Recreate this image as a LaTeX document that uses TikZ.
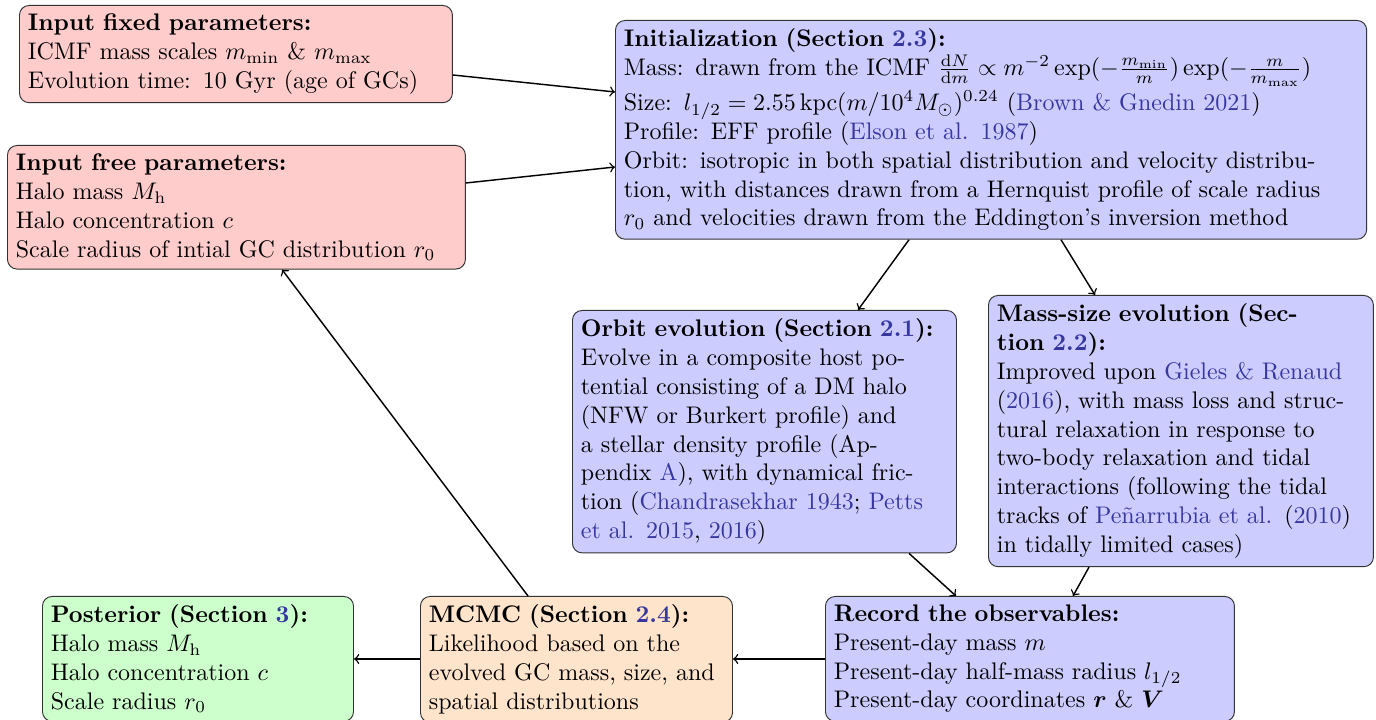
\documentclass[tikz,border=0pt]{standalone}
\usepackage{amsmath,bm}
\usetikzlibrary{calc}
\definecolor{citeblue}{RGB}{55,55,160}
\definecolor{boxpink}{RGB}{255,204,204}
\definecolor{boxblue}{RGB}{204,204,255}
\definecolor{boxgreen}{RGB}{204,255,204}
\definecolor{boxpeach}{RGB}{255,228,204}
\newcommand{\lnk}[1]{\textcolor{citeblue}{#1}}
\tikzset{
  card/.style={draw=black!80, line width=0.4pt, rounded corners=4pt, inner sep=3.5pt, align=left, anchor=north west},
  pinkcard/.style={card, fill=boxpink},
  bluecard/.style={card, fill=boxblue},
  greencard/.style={card, fill=boxgreen},
  peachcard/.style={card, fill=boxpeach},
  flow/.style={->, line width=0.6pt, black}
}
\begin{document}
\begin{tikzpicture}[x=0.41667pt, y=-0.41667pt]
\path[use as bounding box, clip] (0,0) rectangle (1376,720);

\node[pinkcard, text width=173.4pt] (fixed) at (19,5) {%
\textbf{Input fixed parameters:}\\
ICMF mass scales $m_{\min}$ \& $m_{\max}$\\
Evolution time: 10 Gyr (age of GCs)};

\node[pinkcard, text width=183.8pt] (free) at (7,145) {%
\textbf{Input free parameters:}\\
Halo mass $M_{\mathrm{h}}$\\
Halo concentration $c$\\
Scale radius of intial GC distribution $r_0$};

\node[bluecard, text width=306pt] (init) at (615,20) {%
\textbf{Initialization (Section \lnk{2.3}):}\\
Mass: drawn from the ICMF $\frac{\mathrm{d}N}{\mathrm{d}m}\propto m^{-2}\exp(-\frac{m_{\min}}{m})\exp(-\frac{m}{m_{\max}})$\\[1pt]
Size: $l_{1/2}=2.55\,\mathrm{kpc}(m/10^4M_{\odot})^{0.24}$ (\lnk{Brown \& Gnedin 2021})\\
Profile: EFF profile (\lnk{Elson et al. 1987})\\
Orbit: isotropic in both spatial distribution and velocity distribu-\\
tion, with distances drawn from a Hernquist profile of scale radius\\
$r_0$ and velocities drawn from the Eddington's inversion method};

\node[bluecard, text width=153pt] (orbit) at (572,310) {%
\textbf{Orbit evolution (Section \lnk{2.1}):}\\
Evolve in a composite host po-\\
tential consisting of a DM halo\\
(NFW or Burkert profile) and\\
a stellar density profile (Ap-\\
pendix \lnk{A}), with dynamical fric-\\
tion (\lnk{Chandrasekhar 1943}; \lnk{Petts}\\
\lnk{et al. 2015}, \lnk{2016})};

\node[bluecard, text width=153.4pt] (mass) at (988,295) {%
\textbf{Mass-size evolution (Sec-}\\
\textbf{tion \lnk{2.2}):}\\
Improved upon \lnk{Gieles \& Renaud}\\
(\lnk{2016}), with mass loss and struc-\\
tural relaxation in response to\\
two-body relaxation and tidal\\
interactions (following the tidal\\
tracks of \lnk{Pe\~narrubia et al.} (\lnk{2010})\\
in tidally limited cases)};

\node[greencard, text width=122.6pt] (posterior) at (42,596) {%
\textbf{Posterior (Section \lnk{3}):}\\
Halo mass $M_{\mathrm{h}}$\\
Halo concentration $c$\\
Scale radius $r_0$};

\node[peachcard, text width=123pt] (mcmc) at (420,596) {%
\textbf{MCMC (Section \lnk{2.4}):}\\
Likelihood based on the\\
evolved GC mass, size, and\\
spatial distributions};

\node[bluecard, text width=163.4pt] (record) at (825,596) {%
\textbf{Record the observables:}\\
Present-day mass $m$\\
Present-day half-mass radius $l_{1/2}$\\
Present-day coordinates $\bm{r}$ \& $\bm{V}$};

\draw[flow] ($(fixed.north east)+(0,70)$) -- ($(init.north west)+(0,72)$);
\draw[flow] ($(free.north east)+(0,38)$) -- ($(init.north west)+(0,147)$);
\draw[flow] ($(init.south west)+(294,0)$) -- ($(orbit.north west)+(286,0)$);
\draw[flow] ($(init.south west)+(446,0)$) -- ($(mass.north west)+(107,0)$);
\draw[flow] ($(orbit.south west)+(337,0)$) -- ($(record.north west)+(131,0)$);
\draw[flow] ($(mass.south west)+(101,0)$) -- ($(record.north west)+(248,0)$);
\draw[flow] ($(mcmc.north west)+(108,0)$) -- ($(free.south west)+(275,0)$);
\draw[flow] ($(record.north west)+(0,63)$) -- ($(mcmc.north east)+(0,63)$);
\draw[flow] ($(mcmc.north west)+(0,63)$) -- ($(posterior.north east)+(0,63)$);
\end{tikzpicture}
\end{document}
